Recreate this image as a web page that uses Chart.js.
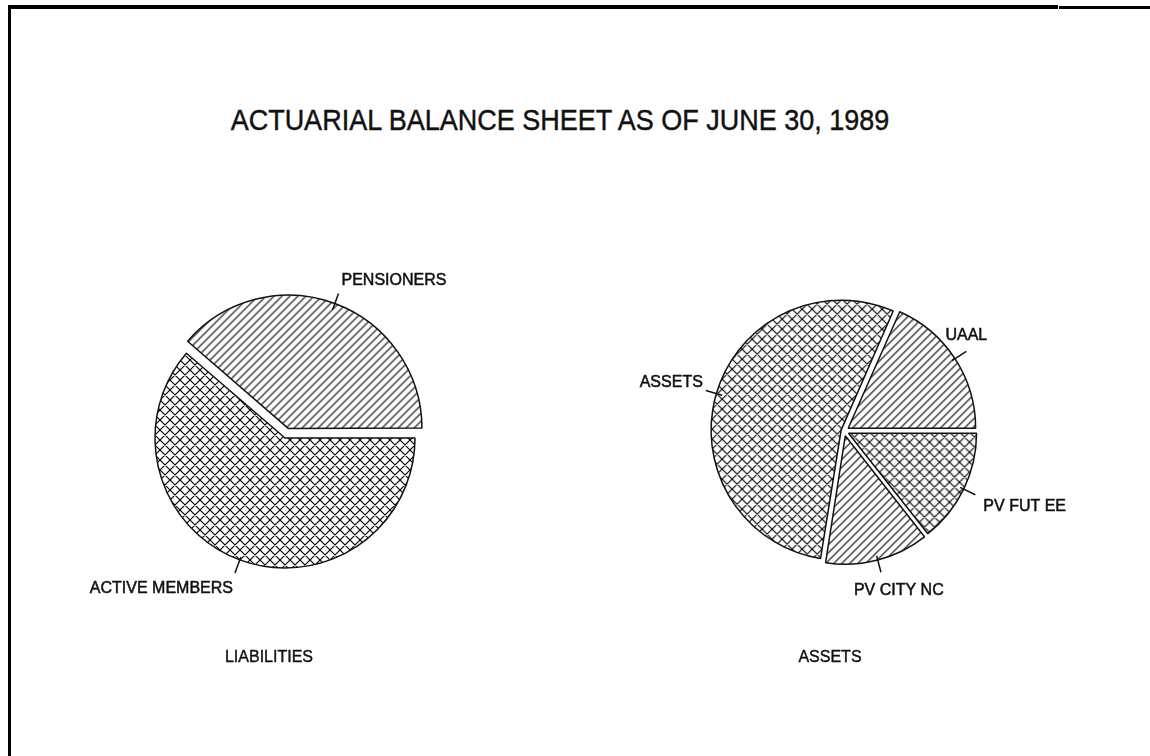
<!DOCTYPE html>
<html>
<head>
<meta charset="utf-8">
<title>Actuarial balance sheet</title>
<script src="https://cdn.jsdelivr.net/npm/chart.js@4.4.0/dist/chart.umd.min.js"></script>
<style>
  body { margin: 0; background: #fff; }
  #page { position: relative; width: 1150px; height: 756px; overflow: hidden; background: #fff;
          font-family: "Liberation Sans", Arial, sans-serif; color: #111; }
  .rule { position: absolute; background: #000; }
  #title { position: absolute; left: 0; width: 1120px; top: 105px; text-align: center; font-size: 27px;
           white-space: nowrap; transform: scaleY(1.12); -webkit-text-stroke: 0.4px #111; }
  .sub { position: absolute; top: 648px; width: 200px; text-align: center; font-size: 16px; -webkit-text-stroke: 0.4px #111; }
  canvas { position: absolute; top: 0; }
</style>
</head>
<body>
<div id="page">
  <div class="rule" style="left:8px;top:5px;width:1050px;height:4px"></div>
  <div class="rule" style="left:1059px;top:6px;width:91px;height:3px"></div>
  <div class="rule" style="left:8px;top:5px;width:3px;height:751px"></div>
  <div id="title"></div>
  <canvas id="liabChart" width="575" height="756" style="left:0"></canvas>
  <canvas id="assetChart" width="575" height="756" style="left:575px"></canvas>
  <div class="sub" id="liabTitle" style="left:169px"></div>
  <div class="sub" id="assetTitle" style="left:730px"></div>
</div>
<script>
const chartTitle = "ACTUARIAL BALANCE SHEET AS OF JUNE 30, 1989";
const pieTitles = ["LIABILITIES", "ASSETS"];

// slices listed clockwise, starting from 3 o'clock
const liabilityLabels = ["ACTIVE MEMBERS", "PENSIONERS"];
const liabilityShares = [61.3, 38.7];

const assetLabels = ["PV FUT EE", "PV CITY NC", "ASSETS", "UAAL"];
const assetShares = [14.4, 13.1, 54.2, 18.4];

document.getElementById("title").textContent = chartTitle;
document.getElementById("liabTitle").textContent = pieTitles[0];
document.getElementById("assetTitle").textContent = pieTitles[1];

// line hatch fills like the old plotter output
function hatch(size, cross) {
  const c = document.createElement("canvas");
  c.width = size;
  c.height = size;
  const g = c.getContext("2d");
  g.strokeStyle = "#000";
  g.lineWidth = 1.15;
  g.beginPath();
  g.moveTo(-1, size + 1); g.lineTo(size + 1, -1);
  g.moveTo(-2, 2); g.lineTo(2, -2);
  g.moveTo(size - 2, size + 2); g.lineTo(size + 2, size - 2);
  if (cross) {
    g.moveTo(-1, -1); g.lineTo(size + 1, size + 1);
    g.moveTo(size - 2, -2); g.lineTo(size + 2, 2);
    g.moveTo(-2, size - 2); g.lineTo(2, size + 2);
  }
  g.stroke();
  return g.createPattern(c, "repeat");
}
const diag = hatch(8, false);
const cross = hatch(10, true);

// Chart.js moves an arc by offset / 4 pixels
const OFFSET_SCALE = 4;

// leader line at the middle of each slice, text placed next to its outer end
const leaderLabels = {
  id: "leaderLabels",
  afterDatasetsDraw(chart, args, opts) {
    const ctx = chart.ctx;
    const meta = chart.getDatasetMeta(0);
    const labels = chart.data.labels;
    ctx.save();
    ctx.strokeStyle = "#111";
    ctx.fillStyle = "#111";
    ctx.font = "16px 'Liberation Sans', Arial, sans-serif";
    meta.data.forEach((arc, i) => {
      const p = arc.getProps(["x", "y", "startAngle", "endAngle", "outerRadius"], true);
      const mid = (p.startAngle + p.endAngle) / 2;
      const off = (arc.options.offset || 0) / OFFSET_SCALE;
      const cx = p.x + Math.cos(mid) * off;
      const cy = p.y + Math.sin(mid) * off;
      const x1 = cx + Math.cos(mid) * (p.outerRadius - 3);
      const y1 = cy + Math.sin(mid) * (p.outerRadius - 3);
      const x2 = cx + Math.cos(mid) * (p.outerRadius + 14);
      const y2 = cy + Math.sin(mid) * (p.outerRadius + 14);
      ctx.lineWidth = 1.5;
      ctx.beginPath();
      ctx.moveTo(x1, y1);
      ctx.lineTo(x2, y2);
      ctx.stroke();
      const pos = opts.place[i];
      ctx.textAlign = pos.align;
      ctx.textBaseline = pos.baseline;
      ctx.lineWidth = 0.5;
      ctx.fillText(labels[i], x2 + pos.dx, y2 + pos.dy);
      ctx.strokeText(labels[i], x2 + pos.dx, y2 + pos.dy);
    });
    ctx.restore();
  }
};

function pie(id, labels, values, fills, offsets, radius, padding, place) {
  return new Chart(document.getElementById(id), {
    type: "pie",
    data: {
      labels: labels,
      datasets: [{
        data: values,
        backgroundColor: fills,
        borderColor: "#111",
        borderWidth: 1.5,
        offset: offsets.map(o => o * OFFSET_SCALE),
        radius: radius
      }]
    },
    options: {
      responsive: false,
      animation: false,
      events: [],
      rotation: 90,
      layout: { padding: padding },
      plugins: {
        legend: { display: false },
        tooltip: { enabled: false },
        leaderLabels: { place: place }
      }
    },
    plugins: [leaderLabels]
  });
}

pie("liabChart", liabilityLabels, liabilityShares, [cross, diag], [0, 10], 130,
  { left: 0, right: 5, top: 120, bottom: 0 },
  [
    { align: "right", baseline: "top", dx: -2, dy: 8 },
    { align: "left", baseline: "bottom", dx: 3, dy: -5 }
  ]);

pie("assetChart", assetLabels, assetShares, [cross, diag, cross, diag], [5, 5, 3, 5], 127,
  { left: 0, right: 37, top: 106, bottom: 0 },
  [
    { align: "left", baseline: "top", dx: 8, dy: 4 },
    { align: "left", baseline: "top", dx: -27, dy: 10 },
    { align: "right", baseline: "bottom", dx: -3, dy: 0 },
    { align: "center", baseline: "bottom", dx: 0, dy: -8 }
  ]);
</script>
</body>
</html>
